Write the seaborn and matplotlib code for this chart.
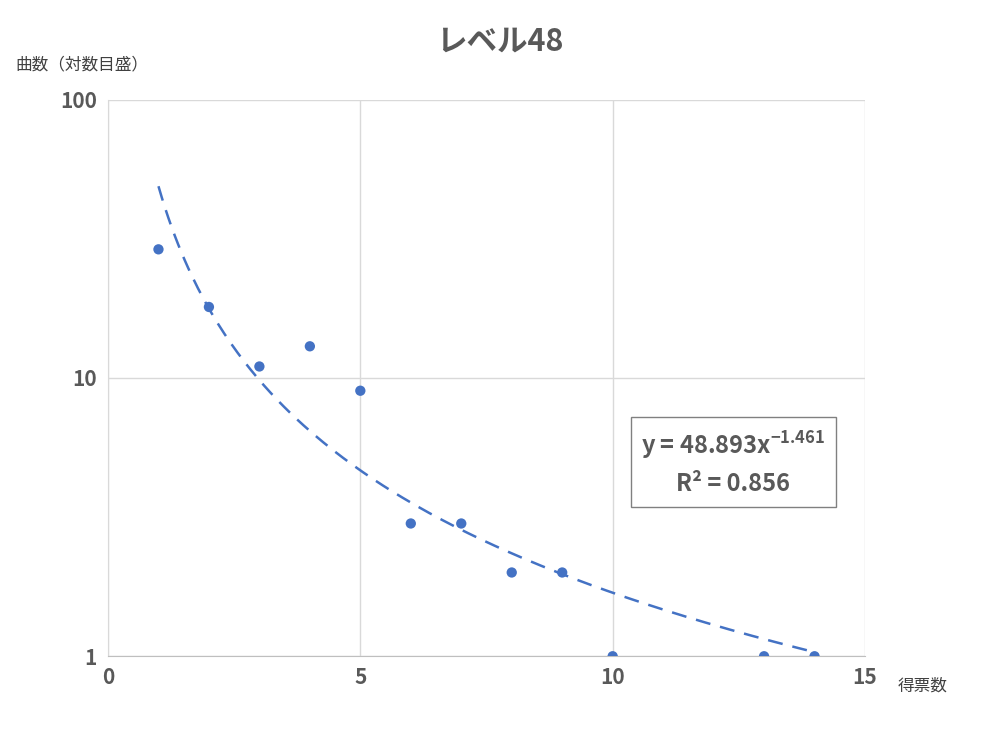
import numpy as np
import pandas as pd
import matplotlib
matplotlib.use("Agg")
import matplotlib.pyplot as plt
import seaborn as sns

votes = [1, 2, 3, 4, 5, 6, 7, 8, 9, 10, 13, 14]
songs = [29, 18, 11, 13, 9, 3, 3, 2, 2, 1, 1, 1]
coef_a = 48.893
coef_b = -1.461
r2 = 0.856

sns.set_style("white")
plt.rcParams['font.family'] = ['Noto Sans CJK JP', 'DejaVu Sans']
plt.rcParams['mathtext.fontset'] = 'custom'
plt.rcParams['mathtext.bf'] = 'Noto Sans CJK JP:bold'
plt.rcParams['mathtext.rm'] = 'Noto Sans CJK JP'
plt.rcParams['axes.unicode_minus'] = False

df = pd.DataFrame({"votes": votes, "songs": songs})
fig = plt.figure(figsize=(10, 7.5), dpi=100)
ax = fig.add_axes([0.108, 0.125, 0.757, 0.742])

# power trendline
xs = np.linspace(min(votes), max(votes), 200)
ax.plot(xs, coef_a * xs ** coef_b, color="#4472C4", lw=1.8, ls=(0, (6, 4)))
sns.scatterplot(data=df, x="votes", y="songs", ax=ax, color="#4472C4",
                s=55, edgecolor="none", zorder=3)

ax.set_yscale("log")
ax.set_ylim(1, 100)
ax.set_xlim(0, 15)
ax.set_xticks([0, 5, 10, 15])
ax.set_yticks([1, 10, 100])
ax.set_yticklabels(["1", "10", "100"])
ax.minorticks_off()
ax.grid(True, color="#D9D9D9", lw=1)
for s in ["top", "right"]:
    ax.spines[s].set_visible(False)
ax.spines["left"].set_color("#D9D9D9")
ax.spines["bottom"].set_color("#BFBFBF")
ax.tick_params(length=0, labelsize=15, labelcolor="#595959", pad=8)
for lab in ax.get_xticklabels() + ax.get_yticklabels():
    lab.set_fontweight("bold")
ax.set_xlabel("")
ax.set_ylabel("")

fig.text(0.5, 0.945, "レベル48", ha="center", va="center", fontsize=22,
         fontweight="bold", color="#595959")
fig.text(0.015, 0.913, "曲数（対数目盛）", ha="left", va="center", fontsize=12,
         color="#404040")
fig.text(0.898, 0.085, "得票数", ha="left", va="center", fontsize=12,
         color="#404040")
ax.text(0.826, 0.347, f"y = {coef_a}x$^{{\\mathbf{{{coef_b}}}}}$\nR² = {r2}",
        transform=ax.transAxes, ha="center", va="center", fontsize=17,
        fontweight="bold", color="#595959", linespacing=1.5,
        bbox=dict(boxstyle="square,pad=0.45", fc="white", ec="#808080", lw=1))

fig.savefig("out.png", dpi=100)
